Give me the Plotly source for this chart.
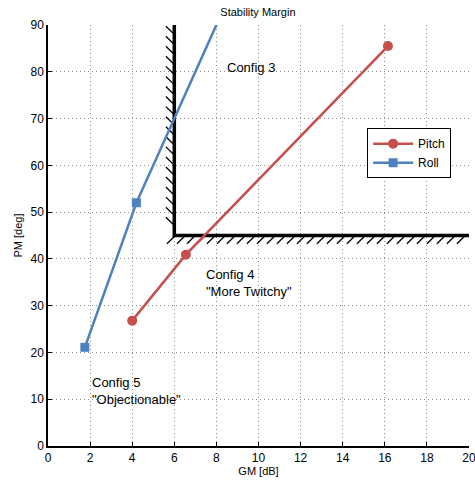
import plotly.graph_objects as go

# Stability margin data for the two control loops
pitch_gm = [4.0, 6.55, 16.15]
pitch_pm = [26.8, 40.9, 85.5]
roll_gm = [1.75, 4.2, 9.2]
roll_pm = [21.1, 52.0, 102.0]

# Acceptable-region boundary (GM >= 6 dB, PM >= 45 deg)
gm_min = 6.0
pm_min = 45.0

x_ticks = list(range(0, 21, 2))
y_ticks = list(range(0, 91, 10))

RED = "#C5504B"
BLUE = "#4F81C0"

fig = go.Figure()

# hatch marks along the boundary
hx, hy = [], []
dx, dy = 0.40, 1.75
y = 90.0 - 2.0
while y > pm_min + 0.5:
    hx += [gm_min, gm_min - dx, None]
    hy += [y, y + dy, None]
    y -= 2.15
x = gm_min + 0.05
while x <= 20.2:
    hx += [x, x - dx, None]
    hy += [pm_min, pm_min - dy, None]
    x += 0.475
fig.add_trace(go.Scatter(x=hx, y=hy, mode="lines", line=dict(color="black", width=1.3),
                         showlegend=False, hoverinfo="skip"))
fig.add_trace(go.Scatter(x=[gm_min, gm_min, 20.0], y=[90.0, pm_min, pm_min], mode="lines",
                         line=dict(color="black", width=3.5), showlegend=False, hoverinfo="skip"))

fig.add_trace(go.Scatter(x=pitch_gm, y=pitch_pm, mode="lines+markers", name="Pitch",
                         line=dict(color=RED, width=2.5),
                         marker=dict(symbol="circle", size=10, color=RED)))
fig.add_trace(go.Scatter(x=roll_gm, y=roll_pm, mode="lines+markers", name="Roll",
                         line=dict(color=BLUE, width=2.5),
                         marker=dict(symbol="square", size=9, color=BLUE)))

font_main = "Liberation Sans, Arial, sans-serif"
notes = [
    (8.4, 81.0, "Config 3"),
    (7.4, 34.8, "Config 4<br>\"More Twitchy\""),
    (2.0, 11.8, "Config 5<br>\"Objectionable\""),
]
for nx, ny, txt in notes:
    fig.add_annotation(x=nx, y=ny, text=txt, showarrow=False, xanchor="left", yanchor="middle",
                       align="left", font=dict(family=font_main, size=13, color="black"))

axis_common = dict(
    showgrid=True, gridcolor="#8c8c8c", griddash="1px,3px", gridwidth=1,
    showline=True, linecolor="black", linewidth=1.5, mirror=False,
    ticks="inside", ticklen=4, tickcolor="black", zeroline=False,
    ticklabeloverflow="allow", automargin=False,
    tickfont=dict(family=font_main, size=12, color="black"),
)

fig.update_layout(
    width=475, height=481,
    margin=dict(l=48, r=6, t=25, b=35, autoexpand=False),
    plot_bgcolor="white", paper_bgcolor="white",
    title=dict(text="Stability Margin", x=0.543, xanchor="center", y=0.975, yanchor="middle",
               font=dict(family=font_main, size=11, color="black")),
    xaxis=dict(range=[0, 20], tickvals=x_ticks,
               title=dict(text="GM [dB]", font=dict(family=font_main, size=11, color="black"), standoff=2),
               **axis_common),
    yaxis=dict(range=[0, 90], tickvals=y_ticks,
               title=dict(text="PM [deg]", font=dict(family=font_main, size=11, color="black"), standoff=6),
               **axis_common),
    legend=dict(x=0.758, y=0.755, xanchor="left", yanchor="top",
                bgcolor="white", bordercolor="black", borderwidth=1,
                font=dict(family=font_main, size=12, color="black"),
                tracegroupgap=0, itemwidth=40),
)

fig.write_html("out.html")
